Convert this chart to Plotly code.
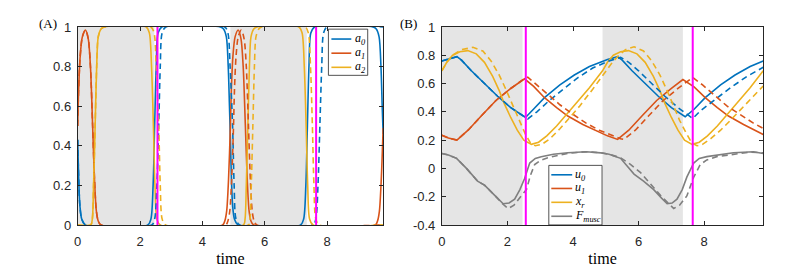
import plotly.graph_objects as go

# ---------------- data ----------------
# Panel (A): activations a0, a1, a2 (solid = one run, dashed = other run)
t_a0 = [0, 0.03, 0.07, 0.13, 0.25, 2.25, 2.35, 2.42, 2.47, 2.52, 2.58, 2.7, 4.58, 4.68, 4.77, 4.83, 4.87, 4.9, 4.93, 4.97, 5.03, 5.15, 7.15, 7.25, 7.32, 7.37, 7.42, 7.48, 7.6, 9.48, 9.58, 9.67, 9.73, 9.77, 9.8]
v_a0 = [0.43, 0.25, 0.1, 0.03, 0, 0, 0.03, 0.2, 0.5, 0.8, 0.97, 1, 1, 0.99, 0.95, 0.8, 0.6, 0.43, 0.25, 0.1, 0.03, 0, 0, 0.03, 0.2, 0.5, 0.8, 0.97, 1, 1, 0.99, 0.95, 0.8, 0.6, 0.46]
t_a1 = [0, 0.03, 0.08, 0.15, 0.25, 0.34, 0.41, 0.48, 0.54, 0.6, 0.66, 0.75, 4.65, 4.72, 4.78, 4.84, 4.9, 4.93, 4.98, 5.05, 5.15, 5.24, 5.31, 5.38, 5.44, 5.5, 5.56, 5.65, 9.55, 9.62, 9.68, 9.74, 9.8]
v_a1 = [0.5, 0.68, 0.85, 0.95, 0.985, 0.94, 0.8, 0.5, 0.23, 0.07, 0.02, 0, 0, 0.02, 0.07, 0.23, 0.5, 0.68, 0.85, 0.95, 0.985, 0.94, 0.8, 0.5, 0.23, 0.07, 0.02, 0, 0, 0.02, 0.07, 0.23, 0.49]
t_a2 = [0, 0.42, 0.47, 0.51, 0.56, 0.61, 0.66, 0.75, 0.85, 2.2, 2.3, 2.37, 2.43, 2.48, 2.54, 2.65, 5.32, 5.37, 5.41, 5.46, 5.51, 5.56, 5.65, 5.75, 7.1, 7.2, 7.27, 7.33, 7.38, 7.44, 7.55, 9.8]
v_a2 = [0, 0, 0.03, 0.2, 0.5, 0.8, 0.95, 0.99, 1, 1, 0.97, 0.8, 0.5, 0.2, 0.03, 0, 0, 0.03, 0.2, 0.5, 0.8, 0.95, 0.99, 1, 1, 0.97, 0.8, 0.5, 0.2, 0.03, 0, 0]

t_a0d = [0, 0.03, 0.07, 0.13, 0.25, 2.38, 2.47, 2.54, 2.6, 2.65, 2.71, 2.83, 4.72, 4.82, 4.89, 4.97, 5.02, 5.08, 5.2, 7.55, 7.64, 7.71, 7.77, 7.83, 7.89, 8.0, 9.8]
v_a0d = [0.43, 0.25, 0.1, 0.03, 0, 0, 0.03, 0.2, 0.5, 0.8, 0.97, 1, 1, 0.97, 0.8, 0.5, 0.2, 0.03, 0, 0, 0.03, 0.2, 0.5, 0.8, 0.97, 1, 1]
t_a1d = [0, 0.03, 0.08, 0.15, 0.25, 0.34, 0.41, 0.48, 0.54, 0.6, 0.66, 0.75, 4.75, 4.82, 4.88, 4.94, 5.0, 5.03, 5.08, 5.15, 5.25, 5.34, 5.41, 5.48, 5.54, 5.6, 5.66, 5.75, 9.8]
v_a1d = [0.5, 0.68, 0.85, 0.95, 0.985, 0.94, 0.8, 0.5, 0.23, 0.07, 0.02, 0, 0, 0.02, 0.07, 0.23, 0.5, 0.68, 0.85, 0.95, 0.985, 0.94, 0.8, 0.5, 0.23, 0.07, 0.02, 0, 0]
t_a2d = [0, 0.42, 0.47, 0.51, 0.56, 0.61, 0.66, 0.75, 0.85, 2.35, 2.45, 2.52, 2.6, 2.65, 2.71, 2.82, 5.48, 5.53, 5.57, 5.62, 5.67, 5.72, 5.81, 5.9, 7.3, 7.4, 7.47, 7.53, 7.58, 7.64, 7.75, 9.8]
v_a2d = [0, 0, 0.03, 0.2, 0.5, 0.8, 0.95, 0.99, 1, 1, 0.97, 0.8, 0.5, 0.2, 0.03, 0, 0, 0.03, 0.2, 0.5, 0.8, 0.95, 0.99, 1, 1, 0.97, 0.8, 0.5, 0.2, 0.03, 0, 0]

# Panel (B): u0, u1, x_r, F_musc
t_u0 = [0, 0.46, 0.6, 0.9, 1.3, 1.7, 2.1, 2.5, 2.55, 2.8, 3.13, 3.6, 4.04, 4.5, 5.05, 5.36, 5.5, 5.8, 6.2, 6.6, 7.0, 7.37, 7.42, 7.7, 8.03, 8.5, 8.94, 9.4, 9.8]
v_u0 = [0.76, 0.79, 0.765, 0.69, 0.6, 0.51, 0.43, 0.365, 0.36, 0.42, 0.5, 0.59, 0.66, 0.72, 0.77, 0.79, 0.765, 0.69, 0.6, 0.51, 0.43, 0.37, 0.365, 0.42, 0.5, 0.59, 0.66, 0.72, 0.76]
t_u0d = [0, 0.46, 0.6, 0.9, 1.3, 1.7, 2.1, 2.5, 2.62, 2.9, 3.23, 3.7, 4.14, 4.6, 5.1, 5.45, 5.7, 6.0, 6.4, 6.8, 7.2, 7.6, 7.65, 7.9, 8.3, 8.8, 9.3, 9.8]
v_u0d = [0.76, 0.79, 0.765, 0.69, 0.6, 0.51, 0.43, 0.37, 0.35, 0.4, 0.47, 0.56, 0.64, 0.71, 0.76, 0.785, 0.75, 0.69, 0.6, 0.51, 0.43, 0.36, 0.353, 0.41, 0.48, 0.57, 0.65, 0.715]

t_u1 = [0, 0.2, 0.46, 0.8, 1.2, 1.65, 2.1, 2.52, 2.8, 3.13, 3.5, 3.84, 4.3, 4.7, 5.05, 5.36, 5.7, 6.1, 6.55, 7.0, 7.35, 7.7, 8.03, 8.4, 8.74, 9.2, 9.6, 9.8]
v_u1 = [0.235, 0.215, 0.2, 0.27, 0.37, 0.48, 0.565, 0.633, 0.58, 0.5, 0.43, 0.37, 0.31, 0.265, 0.23, 0.205, 0.27, 0.37, 0.48, 0.565, 0.628, 0.575, 0.5, 0.43, 0.37, 0.31, 0.265, 0.24]
t_u1d = [0, 0.2, 0.46, 0.8, 1.2, 1.65, 2.1, 2.52, 2.62, 2.9, 3.23, 3.6, 3.95, 4.4, 4.8, 5.15, 5.45, 5.55, 5.9, 6.3, 6.75, 7.2, 7.65, 7.95, 8.3, 8.7, 9.1, 9.5, 9.8]
v_u1d = [0.235, 0.215, 0.2, 0.27, 0.37, 0.48, 0.565, 0.635, 0.645, 0.59, 0.52, 0.45, 0.39, 0.32, 0.27, 0.235, 0.21, 0.205, 0.27, 0.37, 0.48, 0.565, 0.643, 0.59, 0.52, 0.44, 0.38, 0.32, 0.283]

t_xr = [0, 0.15, 0.33, 0.55, 0.79, 1.05, 1.3, 1.55, 1.75, 1.9, 2.1, 2.3, 2.5, 2.73, 2.95, 3.2, 3.5, 3.8, 4.1, 4.5, 4.9, 5.05, 5.23, 5.45, 5.69, 5.95, 6.2, 6.45, 6.65, 6.8, 7.0, 7.2, 7.4, 7.63, 7.85, 8.1, 8.4, 8.7, 9.0, 9.4, 9.8]
v_xr = [0.69, 0.75, 0.8, 0.825, 0.833, 0.81, 0.75, 0.65, 0.55, 0.46, 0.36, 0.27, 0.2, 0.17, 0.185, 0.23, 0.3, 0.38, 0.46, 0.57, 0.69, 0.75, 0.8, 0.825, 0.833, 0.81, 0.75, 0.65, 0.55, 0.46, 0.36, 0.27, 0.2, 0.17, 0.185, 0.23, 0.3, 0.38, 0.46, 0.57, 0.69]
t_xrd = [0, 0.15, 0.33, 0.6, 0.95, 1.25, 1.5, 1.75, 1.95, 2.15, 2.35, 2.55, 2.7, 2.85, 3.05, 3.3, 3.6, 3.9, 4.2, 4.6, 5.0, 5.2, 5.4, 5.6, 5.86, 6.15, 6.4, 6.65, 6.85, 7.05, 7.25, 7.45, 7.62, 7.78, 7.95, 8.2, 8.5, 8.8, 9.1, 9.5, 9.8]
v_xrd = [0.69, 0.75, 0.8, 0.84, 0.856, 0.83, 0.76, 0.66, 0.56, 0.45, 0.34, 0.24, 0.18, 0.16, 0.17, 0.21, 0.28, 0.36, 0.44, 0.56, 0.69, 0.75, 0.8, 0.84, 0.86, 0.83, 0.76, 0.66, 0.56, 0.45, 0.34, 0.25, 0.18, 0.16, 0.17, 0.21, 0.27, 0.34, 0.41, 0.51, 0.583]

t_F = [0, 0.2, 0.45, 0.75, 1.09, 1.31, 1.65, 1.87, 2.05, 2.22, 2.38, 2.52, 2.68, 2.85, 3.03, 3.4, 3.84, 4.4, 4.85, 5.1, 5.45, 5.86, 6.15, 6.46, 6.7, 6.87, 7.02, 7.17, 7.33, 7.47, 7.68, 7.85, 8.08, 8.5, 8.89, 9.5, 9.8]
v_F = [0.105, 0.095, 0.071, 0.0, -0.09, -0.12, -0.2, -0.25, -0.245, -0.218, -0.15, -0.073, 0.038, 0.07, 0.083, 0.1, 0.111, 0.118, 0.11, 0.1, 0.071, -0.04, -0.09, -0.15, -0.21, -0.25, -0.245, -0.218, -0.15, -0.062, 0.038, 0.07, 0.083, 0.1, 0.111, 0.118, 0.105]
t_Fd = [0, 0.2, 0.45, 0.75, 1.09, 1.31, 1.65, 1.85, 2.02, 2.2, 2.4, 2.58, 2.7, 2.83, 3.0, 3.23, 3.6, 3.9, 4.4, 4.85, 5.1, 5.45, 5.76, 6.06, 6.36, 6.7, 7.07, 7.25, 7.47, 7.68, 7.88, 8.08, 8.38, 8.89, 9.4, 9.8]
v_Fd = [0.105, 0.095, 0.071, 0.0, -0.09, -0.12, -0.2, -0.25, -0.284, -0.26, -0.2, -0.15, -0.05, 0.027, 0.055, 0.075, 0.095, 0.108, 0.118, 0.11, 0.1, 0.075, 0.027, -0.03, -0.11, -0.2, -0.284, -0.26, -0.195, -0.062, 0.027, 0.06, 0.083, 0.1, 0.115, 0.11]

# shaded phases and event markers (time)
shade_intervals = [(0, 2.46), (4.9, 7.35)]
event_times = [2.56, 7.65]

x_ticks = [0, 2, 4, 6, 8]
yA_ticks = [0, 0.2, 0.4, 0.6, 0.8, 1]
yB_ticks = [-0.4, -0.2, 0, 0.2, 0.4, 0.6, 0.8, 1]

legendA_names = ["a<sub>0</sub>", "a<sub>1</sub>", "a<sub>2</sub>"]
legendB_names = ["u<sub>0</sub>", "u<sub>1</sub>", "x<sub>r</sub>", "F<sub>musc</sub>"]

# ---------------- style ----------------
BLUE, RED, YEL, GRAY = "#0072BD", "#D95319", "#EDB120", "#7F7F7F"
MAG = "#FF00FF"
SHADE = "#E5E5E5"
AX = "#262626"
LW = 1.6
DASH = "6px,4px"
OFF = 8            # page body margin of the html page
W, H = 810 - OFF, 270 - OFF


def px(x):
    return (x - OFF) / W


def py(y):
    return 1 - (y - OFF) / H


fig = go.Figure()


def add(t, v, color, dash, xa, ya, shape):
    fig.add_trace(go.Scatter(x=t, y=v, mode="lines", xaxis=xa, yaxis=ya, showlegend=False,
                             line=dict(color=color, width=LW, dash=dash, shape=shape,
                                       smoothing=0.8 if shape == "spline" else None),
                             hoverinfo="skip"))


for t, v, c in [(t_a0, v_a0, BLUE), (t_a1, v_a1, RED), (t_a2, v_a2, YEL)]:
    add(t, v, c, "solid", "x", "y", "spline")
for t, v, c in [(t_a0d, v_a0d, BLUE), (t_a1d, v_a1d, RED), (t_a2d, v_a2d, YEL)]:
    add(t, v, c, DASH, "x", "y", "spline")
for t, v, c in [(t_u0, v_u0, BLUE), (t_u1, v_u1, RED), (t_xr, v_xr, YEL), (t_F, v_F, GRAY)]:
    add(t, v, c, "solid", "x2", "y2", "linear")
for t, v, c in [(t_u0d, v_u0d, BLUE), (t_u1d, v_u1d, RED), (t_xrd, v_xrd, YEL), (t_Fd, v_Fd, GRAY)]:
    add(t, v, c, DASH, "x2", "y2", "linear")

shapes = []
for xr_, yr_ in [("x", "y"), ("x2", "y2")]:
    for a, b in shade_intervals:
        shapes.append(dict(type="rect", xref=xr_, yref=yr_ + " domain", x0=a, x1=b, y0=0, y1=1,
                           fillcolor=SHADE, line=dict(width=0), layer="below"))
    for e in event_times:
        shapes.append(dict(type="line", xref=xr_, yref=yr_ + " domain", x0=e, x1=e, y0=0, y1=1,
                           line=dict(color=MAG, width=2), layer="above"))

annotations = []
serif = "Liberation Serif"


def legend_box(x0, x1, y0, y1, rows, names, colors, sx0, sx1, tx):
    shapes.append(dict(type="rect", xref="paper", yref="paper", x0=px(x0), x1=px(x1), y0=py(y1), y1=py(y0),
                       fillcolor="white", line=dict(color="#262626", width=0.8), layer="above"))
    for r, n, c in zip(rows, names, colors):
        shapes.append(dict(type="line", xref="paper", yref="paper", x0=px(sx0), x1=px(sx1), y0=py(r), y1=py(r),
                           line=dict(color=c, width=LW), layer="above"))
        annotations.append(dict(xref="paper", yref="paper", x=px(tx), y=py(r), text=n, showarrow=False,
                                xanchor="left", yanchor="middle",
                                font=dict(family=serif, size=12, color="black", style="italic")))


legend_box(326, 365.5, 23, 72, [33.5, 48.5, 63.5], legendA_names, [BLUE, RED, YEL], 329, 349, 351)
legend_box(547.5, 601, 167.5, 230.7, [177.5, 192, 206.7, 221.5], legendB_names, [BLUE, RED, YEL, GRAY], 550, 571, 572)

annotations.append(dict(xref="paper", yref="paper", x=px(33), y=py(17), text="(A)", showarrow=False,
                        xanchor="left", yanchor="middle", font=dict(family=serif, size=13, color="black")))
annotations.append(dict(xref="paper", yref="paper", x=px(396), y=py(17), text="(B)", showarrow=False,
                        xanchor="left", yanchor="middle", font=dict(family=serif, size=13, color="black")))

fig.update_layout(shapes=shapes, annotations=annotations)

ydom = [py(230.7), py(20.7)]
common_x = dict(range=[0, 9.8], tickvals=x_ticks, ticks="inside", ticklen=4, tickcolor=AX, showline=True,
                linecolor=AX, linewidth=0.8, mirror="ticks", showgrid=False, zeroline=False,
                ticklabelstandoff=5,
                tickfont=dict(family="Liberation Sans", size=13, color=AX),
                title=dict(text="time", font=dict(family=serif, size=16, color="black"), standoff=4))
common_y = dict(ticks="inside", ticklen=4, tickcolor=AX, showline=True, linecolor=AX, linewidth=0.8,
                mirror="ticks", showgrid=False, zeroline=False, ticklabelstandoff=3,
                tickfont=dict(family="Liberation Sans", size=13, color=AX))

fig.update_layout(
    width=W, height=H, margin=dict(l=0, r=0, t=0, b=0),
    paper_bgcolor="white", plot_bgcolor="white",
    xaxis=dict(domain=[px(74), px(381)], anchor="y", **common_x),
    yaxis=dict(domain=ydom, anchor="x", range=[0, 1], tickvals=yA_ticks,
               ticktext=[f"{v:g}" for v in yA_ticks], **common_y),
    xaxis2=dict(domain=[px(440), px(763)], anchor="y2", **common_x),
    yaxis2=dict(domain=ydom, anchor="x2", range=[-0.4, 1], tickvals=yB_ticks,
                ticktext=[f"{v:g}" for v in yB_ticks], **common_y),
)

fig.write_html("out.html", config={"displayModeBar": False})
